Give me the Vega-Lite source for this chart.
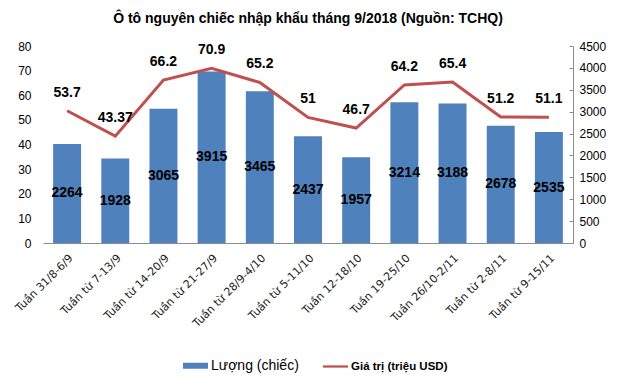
{
  "$schema": "https://vega.github.io/schema/vega-lite/v6.json",
  "width": 530,
  "height": 197,
  "autosize": {"type": "none"},
  "padding": {"left": 43, "top": 46, "right": 54, "bottom": 144},
  "background": "white",
  "title": {
    "text": "Ô tô nguyên chiếc nhập khẩu tháng 9/2018 (Nguồn: TCHQ)",
    "font": "Liberation Sans",
    "fontSize": 14,
    "fontWeight": "bold",
    "color": "black",
    "anchor": "middle",
    "offset": 14
  },
  "config": {
    "view": {"stroke": null},
    "font": "Liberation Sans",
    "axis": {"grid": false, "labelColor": "black", "labelFont": "Liberation Sans", "title": null}
  },
  "data": {
    "values": [
      {"week": "Tuần 31/8-6/9", "qty": 2264, "value": 53.7, "vlabel": "53.7"},
      {"week": "Tuần từ 7-13/9", "qty": 1928, "value": 43.37, "vlabel": "43.37"},
      {"week": "Tuần từ 14-20/9", "qty": 3065, "value": 66.2, "vlabel": "66.2"},
      {"week": "Tuần từ 21-27/9", "qty": 3915, "value": 70.9, "vlabel": "70.9"},
      {"week": "Tuần từ 28/9-4/10", "qty": 3465, "value": 65.2, "vlabel": "65.2"},
      {"week": "Tuần từ 5-11/10", "qty": 2437, "value": 51, "vlabel": "51"},
      {"week": "Tuần 12-18/10", "qty": 1957, "value": 46.7, "vlabel": "46.7"},
      {"week": "Tuần 19-25/10", "qty": 3214, "value": 64.2, "vlabel": "64.2"},
      {"week": "Tuần 26/10-2/11", "qty": 3188, "value": 65.4, "vlabel": "65.4"},
      {"week": "Tuần từ 2-8/11", "qty": 2678, "value": 51.2, "vlabel": "51.2"},
      {"week": "Tuần từ 9-15/11", "qty": 2535, "value": 51.1, "vlabel": "51.1"}
    ]
  },
  "encoding": {
    "x": {
      "field": "week",
      "type": "nominal",
      "sort": null,
      "scale": {"paddingInner": 0.42, "paddingOuter": 0.21},
      "axis": {
        "labelAngle": -45,
        "labelFont": "DejaVu Sans",
        "labelFontSize": 11,
        "labelColor": "#222222",
        "ticks": false,
        "domainColor": "#8c8c8c",
        "labelPadding": 9
      }
    }
  },
  "layer": [
    {
      "mark": {"type": "bar", "color": "#4F81BD"},
      "encoding": {
        "y": {
          "field": "qty",
          "type": "quantitative",
          "scale": {"domain": [0, 4500]},
          "axis": {
            "orient": "right",
            "values": [0, 500, 1000, 1500, 2000, 2500, 3000, 3500, 4000, 4500],
            "format": "d",
            "labelFontSize": 12,
            "domainColor": "#8c8c8c",
            "tickColor": "#8c8c8c",
            "tickSize": -4,
            "labelPadding": 10
          }
        },
        "color": {
          "datum": "Lượng (chiếc)",
          "type": "nominal",
          "scale": {"domain": ["Lượng (chiếc)", "Giá trị (triệu USD)"], "range": ["#4F81BD", "#C0504D"]},
          "legend": {
            "orient": "none",
            "legendX": 140,
            "legendY": 307,
            "direction": "horizontal",
            "title": null,
            "columnPadding": 24,
            "labelLimit": 300,
            "labelColor": "black",
            "symbolSize": 625,
            "symbolStrokeWidth": 0,
            "labelOffset": 3,
            "encode": {
              "symbols": {
                "update": {
                  "shape": {"signal": "datum.value === 'Lượng (chiếc)' ? 'M-1,-0.24H1V0.24H-1Z' : 'M-1,-0.09H1V0.09H-1Z'"},
                  "fillOpacity": {"value": 1}
                }
              },
              "labels": {
                "update": {
                  "fontSize": {"signal": "datum.value === 'Lượng (chiếc)' ? 14 : 11.5"},
                  "fontWeight": {"signal": "datum.value === 'Lượng (chiếc)' ? 'normal' : 'bold'"}
                }
              }
            }
          }
        }
      }
    },
    {
      "mark": {"type": "text", "fontSize": 14, "fontWeight": "bold", "color": "black", "baseline": "middle"},
      "encoding": {
        "y": {"field": "qty", "type": "quantitative", "scale": {"domain": [0, 9000]}, "axis": null},
        "text": {"field": "qty", "type": "quantitative", "format": "d"}
      }
    },
    {
      "mark": {"type": "line", "strokeWidth": 3},
      "encoding": {
        "y": {
          "field": "value",
          "type": "quantitative",
          "scale": {"domain": [0, 80]},
          "axis": {
            "orient": "left",
            "values": [0, 10, 20, 30, 40, 50, 60, 70, 80],
            "labelFontSize": 12,
            "domain": false,
            "ticks": false,
            "labelPadding": 12
          }
        },
        "color": {"datum": "Giá trị (triệu USD)", "type": "nominal"}
      }
    },
    {
      "mark": {"type": "text", "fontSize": 14, "fontWeight": "bold", "color": "black", "baseline": "middle", "dy": -18},
      "encoding": {
        "y": {"field": "value", "type": "quantitative", "scale": {"domain": [0, 80]}, "axis": null},
        "text": {"field": "vlabel", "type": "nominal"}
      }
    }
  ],
  "resolve": {"scale": {"y": "independent"}}
}
